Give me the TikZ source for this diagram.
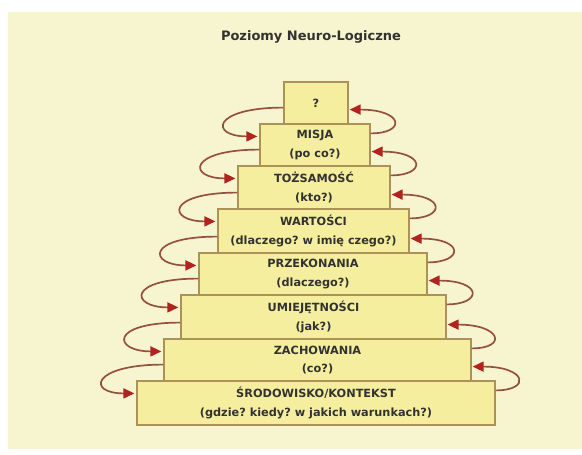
\documentclass[tikz,border=0pt]{standalone}
\usepackage{fontspec}
\setmainfont{DejaVu Sans}
\usetikzlibrary{arrows.meta,calc}
\definecolor{bgbeige}{RGB}{247,245,207}
\definecolor{boxfill}{RGB}{245,238,158}
\definecolor{boxline}{RGB}{172,146,88}
\definecolor{txtgray}{RGB}{50,50,50}
\definecolor{arrline}{RGB}{150,80,62}
\definecolor{arrhead}{RGB}{178,34,30}
\begin{document}
\frenchspacing
\begin{tikzpicture}[x=1pt,y=-1pt,
  lvl/.style={draw=boxline, fill=boxfill, line width=1.2pt, inner sep=0pt, align=center,
    text=txtgray, font=\bfseries\fontsize{11.3}{18.5}\selectfont},
  cycarrow/.style={draw=arrline, line width=1.7pt,
    -{Triangle[length=11pt,width=10pt,color=arrhead]}},
  titletext/.style={text=txtgray, font=\bfseries\fontsize{13}{15}\selectfont}]
\useasboundingbox (0,0) rectangle (582,455);
\fill[white] (0,0) rectangle (582,455);
\fill[bgbeige] (8,12) rectangle (582,449);
\node[titletext] (title) at (311,37) {Poziomy Neuro-Logiczne};
\node[lvl, minimum width=64pt, minimum height=42pt] (q) at (316,103) {?};
\node[lvl, minimum width=110pt, minimum height=42pt] (misja) at (315,145) {MISJA\\(po co?)};
\node[lvl, minimum width=152pt, minimum height=43pt] (toz) at (314,187.5) {TOŻSAMOŚĆ\\(kto?)};
\node[lvl, minimum width=191pt, minimum height=44pt] (wart) at (313.5,231) {WARTOŚCI\\(dlaczego? w imię czego?)};
\node[lvl, minimum width=228pt, minimum height=42pt] (prz) at (313,274) {PRZEKONANIA\\(dlaczego?)};
\node[lvl, minimum width=265pt, minimum height=44pt] (umie) at (313.5,317) {UMIEJĘTNOŚCI\\(jak?)};
\node[lvl, minimum width=307pt, minimum height=42pt] (zach) at (317.5,360) {ZACHOWANIA\\(co?)};
\node[lvl, minimum width=358pt, minimum height=44pt] (srod) at (316,403) {ŚRODOWISKO/KONTEKST\\(gdzie? kiedy? w jakich warunkach?)};
% left: loops down into the next level; right: loops up into the level above
\foreach \u/\l in {q/misja, misja/toz, toz/wart, wart/prz, prz/umie, umie/zach, zach/srod}{
  \draw[cycarrow] ($(\u.south west)+(0,-17)$) .. controls +(-72,0) and +(-48,0) .. ($(\l.north west)+(-2,13)$);
  \draw[cycarrow] ($(\l.north east)+(0,10)$) .. controls +(36,0) and +(54,0) .. ($(\u.south east)+(1,-15)$);
}
\end{tikzpicture}
\end{document}
